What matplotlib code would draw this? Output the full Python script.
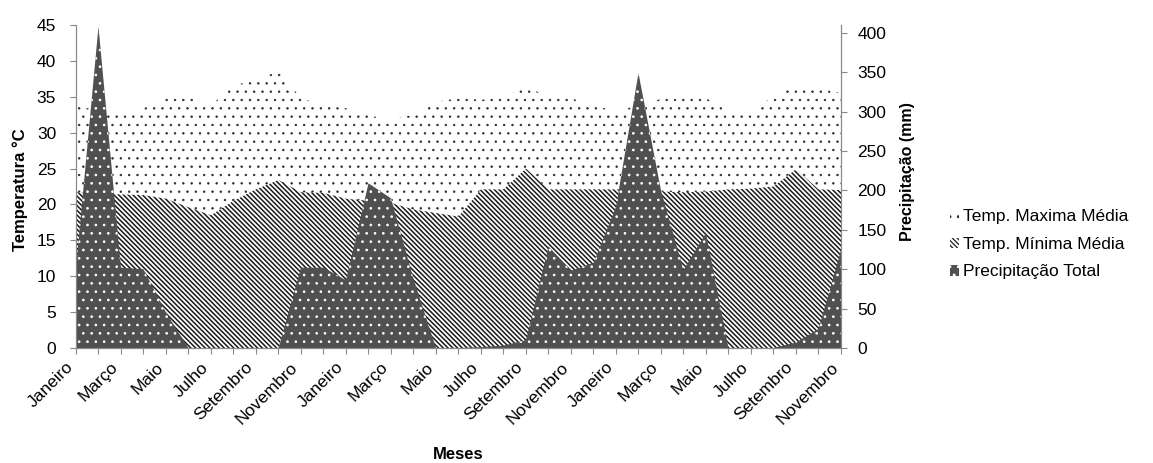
import matplotlib.pyplot as plt
import numpy as np
from matplotlib.patches import Patch

plt.rcParams['font.family'] = ['Liberation Sans', 'DejaVu Sans']
plt.rcParams['hatch.linewidth'] = 0.9

# tres anos de dados mensais (jan do 1o ano ate nov do 3o)
nomes = ['Janeiro', 'Fevereiro', 'Março', 'Abril', 'Maio', 'Junho',
         'Julho', 'Agosto', 'Setembro', 'Outubro', 'Novembro', 'Dezembro']
meses = (nomes * 3)[:35]

temp_max = [33.8, 33.0, 32.4, 33.4, 34.8, 34.9, 33.8, 36.6, 37.3, 38.6, 34.8, 33.8,
            33.4, 32.4, 31.8, 32.5, 34.3, 34.8, 34.6, 34.8, 36.6, 34.8, 34.8, 33.8,
            33.0, 33.8, 34.7, 34.8, 34.8, 33.0, 32.8, 35.1, 36.7, 36.2, 35.5]

temp_min = [21.7, 21.5, 21.4, 21.3, 20.8, 19.6, 18.5, 20.5, 22.1, 23.4, 21.7, 21.6,
            20.8, 20.5, 20.2, 19.3, 18.8, 18.3, 22.1, 22.1, 25.0, 22.1, 22.1, 22.1,
            22.1, 22.0, 21.8, 21.7, 21.8, 22.1, 22.2, 22.5, 24.9, 22.1, 22.0]

precip = [101, 408, 102, 100, 45, 0, 0, 0, 0, 0, 102, 102,
          86, 209, 190, 88, 0, 0, 1, 3, 10, 129, 98, 108,
          179, 349, 200, 99, 146, 0, 0, 0, 7, 24, 124]

x = np.arange(len(meses))
cinza = '#898989'
fs = 12.5

fig = plt.figure(figsize=(11.53, 4.63), dpi=100)
ax = fig.add_axes([0.0659, 0.2484, 0.6635, 0.6976])
ax2 = ax.twinx()

# estilos das areas (hatch, espessura do hatch)
est_max = dict(facecolor='white', edgecolor='#2a2a2a', hatch='..', linewidth=0)
est_min = dict(facecolor='white', edgecolor='#1a1a1a', hatch='\\' * 7, linewidth=0)
est_pre = dict(facecolor='#505050', edgecolor='white', hatch='..', linewidth=0)
lw_hatch = [0.5, 1.1, 0.7]


def hatch_lw(art, lw):
    if hasattr(art, 'set_hatch_linewidth'):
        art.set_hatch_linewidth(lw)


a1 = ax.fill_between(x, temp_max, 0, **est_max)
a2 = ax.fill_between(x, temp_min, 0, **est_min)
a3 = ax2.fill_between(x, precip, 0, **est_pre)
for art, lw in zip((a1, a2, a3), lw_hatch):
    hatch_lw(art, lw)

ax.set_xlim(0, len(meses) - 1)
ax.set_ylim(0, 45)
ax.set_yticks(np.arange(0, 46, 5))
ax2.set_ylim(0, 410)
ax2.set_yticks(np.arange(0, 401, 50))

rot = [m if i % 2 == 0 else '' for i, m in enumerate(meses)]
ax.set_xticks(x)
ax.set_xticklabels(rot, rotation=45, ha='right', va='top', fontsize=fs)

for a in (ax, ax2):
    a.spines['top'].set_visible(False)
    for s in ('left', 'right', 'bottom'):
        a.spines[s].set_color(cinza)
    a.tick_params(direction='out', length=4.3, color=cinza, labelsize=fs, labelcolor='black')
ax.tick_params(axis='y', pad=10)
ax2.tick_params(axis='y', pad=7.5)
ax.tick_params(axis='x', pad=4)

ax.set_ylabel('Temperatura °C', fontweight='bold', fontsize=12)
ax.yaxis.set_label_coords(-0.063, 0.49)
ax2.set_ylabel('Precipitação (mm)', fontweight='bold', fontsize=11.5)
ax2.yaxis.set_label_coords(1.077, 0.545)
ax.set_xlabel('Meses', fontweight='bold', fontsize=12)
ax.xaxis.set_label_coords(0.5, -0.305)

handles = [Patch(**est_max), Patch(**est_min), Patch(**est_pre)]
for h, lw in zip(handles, lw_hatch):
    hatch_lw(h, lw)
rotulos = ['Temp. Maxima Média', 'Temp. Mínima Média', 'Precipitação Total']
fig.legend(handles, rotulos, loc='center left', bbox_to_anchor=(0.81, 0.472),
           frameon=False, fontsize=fs, handlelength=0.55, handleheight=0.55,
           handletextpad=0.25, labelspacing=0.72)

fig.savefig('out.png', dpi=100)
